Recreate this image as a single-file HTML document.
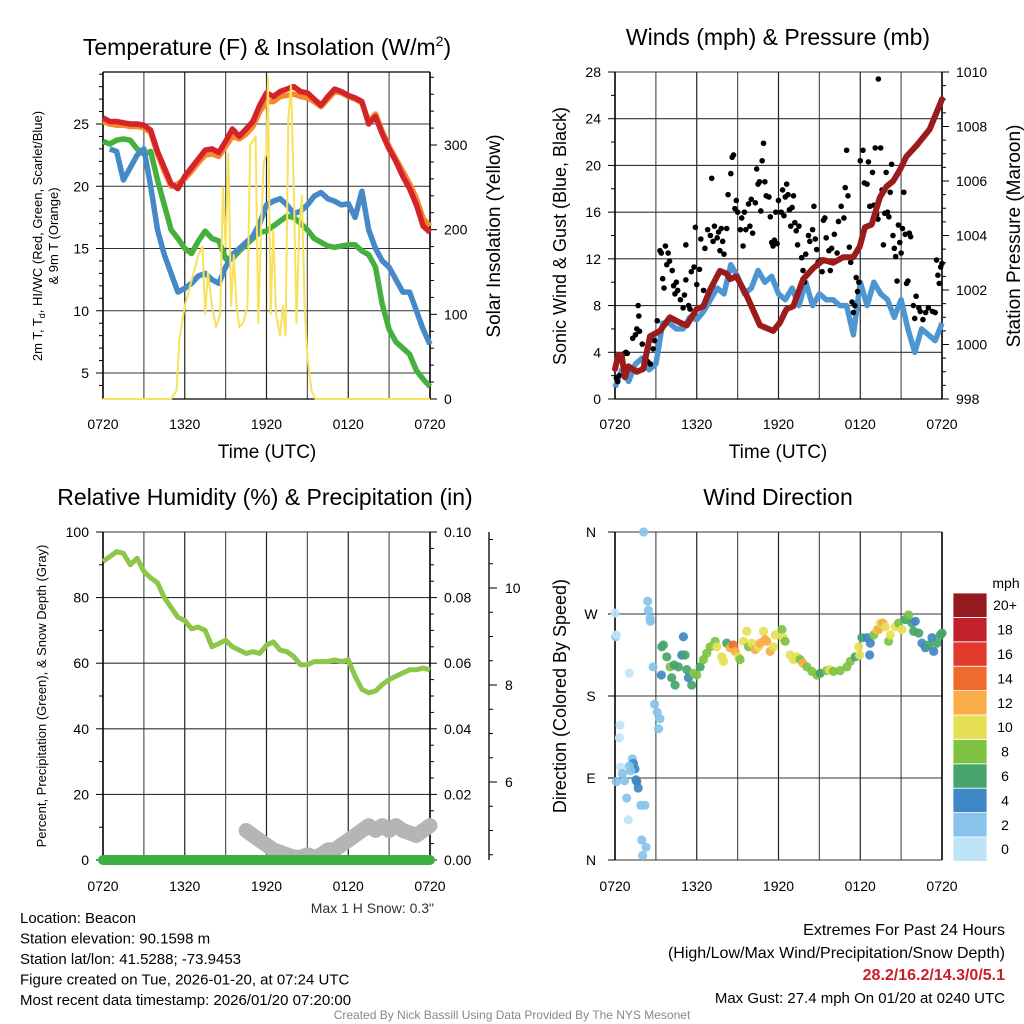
<!DOCTYPE html>
<html><head><meta charset="utf-8"><style>
html,body{margin:0;padding:0;background:#fff;}
svg{display:block;font-family:"Liberation Sans",Arial,sans-serif;}
</style></head><body>
<svg id="c" width="1024" height="1024" viewBox="0 0 1024 1024"></svg>
<script>
// ---------- DATA ----------
const halfHours=[0,0.5,1,1.5,2,2.5,3,3.5,4,4.5,5,5.5,6,6.5,7,7.5,8,8.5,9,9.5,10,10.5,11,11.5,12,12.5,13,13.5,14,14.5,15,15.5,16,16.5,17,17.5,18,18.5,19,19.5,20,20.5,21,21.5,22,22.5,23,23.5,24];
const timeTickLabels=["0720","1320","1920","0120","0720"];
const tempRed=[25.5,25.2,25.2,25.1,25.0,25.0,24.9,24.5,22.8,21.5,20.2,19.8,20.8,21.5,22.2,22.9,23.0,22.7,23.6,24.6,24.0,24.6,25.2,26.5,27.5,27.2,27.6,27.8,28.0,27.6,27.5,27.0,26.5,27.2,27.8,27.6,27.3,27.1,26.8,25.0,25.6,24.2,23.0,22.0,20.8,19.8,18.5,16.8,16.3];
const tempOrange=[25.2,25.0,24.9,24.9,24.8,24.8,24.7,24.3,22.6,21.2,20.0,20.2,20.6,21.2,21.9,22.5,22.6,22.4,23.2,24.0,23.8,24.2,24.8,26.0,26.8,26.8,27.2,27.3,27.4,27.2,27.1,26.8,26.4,27.0,27.6,27.5,27.2,27.0,26.7,25.2,25.8,24.4,23.2,22.2,21.2,20.2,19.0,17.4,16.8];
const tempGreen=[23.6,23.4,23.7,23.8,23.7,23.0,22.6,22.8,20.5,18.5,16.5,15.8,15.0,14.6,15.6,16.4,15.8,15.6,14.2,14.2,14.8,15.3,15.8,16.3,16.4,16.8,17.2,17.6,17.5,17.0,16.5,15.8,15.5,15.2,15.1,15.2,15.3,15.3,14.8,14.5,13.5,10.5,8.5,7.5,7.0,6.5,5.2,4.5,3.9];
const tempBlue=[null,23.0,22.8,20.5,21.5,22.5,23.0,20.0,16.5,14.5,13.0,11.5,11.8,12.2,12.8,13.0,12.5,12.2,13.5,14.5,15.0,15.5,16.0,17.0,18.5,18.8,19.0,18.5,17.8,18.0,18.5,19.2,19.5,19.0,18.8,18.5,18.6,17.5,19.6,16.5,15.0,14.0,13.5,12.5,11.5,11.5,10.0,8.5,7.3];
const solarHours=[0,5.0,5.4,5.6,6,6.5,7,7.3,7.5,7.7,8,8.3,8.6,8.8,9,9.2,9.4,9.6,9.8,10,10.3,10.6,10.8,11,11.2,11.4,11.6,11.8,12,12.1,12.3,12.5,12.7,13,13.2,13.4,13.6,13.8,14,14.2,14.4,14.6,14.8,15,15.3,15.6,24];
const solarValues=[0,0,10,70,110,140,170,180,100,150,110,85,100,250,180,290,110,170,110,85,90,110,300,305,310,90,200,280,290,380,100,200,100,75,110,75,330,370,250,90,200,240,110,50,10,0,0];
const windSpeed=[1.0,2.5,1.5,3.0,3.5,2.5,3.0,6.5,6.5,6.0,6.0,7.0,6.8,7.5,8.5,9.5,9.0,11.5,10.5,9.0,9.5,11.0,10.0,10.5,9.0,8.5,9.5,8.0,10.0,8.0,9.0,8.5,8.5,8.0,8.0,5.5,10.0,8.0,10.0,9.0,8.5,7.0,8.5,6.0,4.0,6.0,5.5,5.0,6.5];
const pressureHours=[0,0.24,0.49,0.73,0.98,1.59,2.08,2.57,3.30,4.03,4.77,5.26,5.99,6.48,6.97,7.70,8.19,8.44,8.92,9.66,10.64,11.61,12.10,12.59,13.08,13.81,14.55,15.28,16.01,16.75,17.48,17.97,18.34,18.83,19.44,19.93,20.42,20.90,21.39,22.13,23.10,24];
const pressureValues=[999.1,999.6,999.6,998.8,999.2,999.0,999.1,1000.3,1000.5,1001.0,1000.8,1000.7,1001.3,1001.4,1002.0,1002.7,1002.6,1002.4,1002.5,1001.8,1000.7,1000.5,1000.8,1001.3,1001.4,1002.4,1002.8,1003.1,1003.0,1003.2,1003.2,1003.6,1004.3,1004.4,1005.4,1005.8,1006.0,1006.4,1006.9,1007.3,1007.9,1009.0];
const gustHours=[0.1,0.2,0.3,0.7,0.8,0.9,1.3,1.5,1.6,1.7,1.75,1.8,2.0,2.2,2.4,2.6,2.8,2.9,3.1,3.3,3.4,3.5,3.6,3.7,3.8,3.9,4.0,4.2,4.3,4.4,4.5,4.6,4.8,5.0,5.1,5.2,5.2,5.4,5.5,5.6,5.8,5.9,6.0,6.2,6.3,6.5,6.6,6.8,7.0,7.1,7.2,7.3,7.5,7.6,7.7,7.8,7.9,8.0,8.2,8.3,8.5,8.6,8.7,8.8,8.9,9.0,9.2,9.3,9.4,9.5,9.6,9.8,9.9,10.0,10.1,10.3,10.4,10.5,10.6,10.7,10.8,10.9,11.0,11.1,11.3,11.4,11.5,11.6,11.7,11.8,11.9,12.0,12.2,12.3,12.4,12.5,12.6,12.7,12.8,12.9,13.0,13.1,13.2,13.3,13.4,13.5,13.7,13.8,13.9,14.0,14.2,14.3,14.5,14.6,14.7,14.8,14.9,15.1,15.2,15.3,15.4,15.5,15.7,15.8,15.9,16.1,16.3,16.4,16.6,16.8,16.9,17.0,17.1,17.2,17.3,17.4,17.5,17.6,17.7,17.8,17.9,18.0,18.2,18.3,18.5,18.6,18.7,18.9,19.0,19.1,19.2,19.3,19.5,19.6,19.7,19.8,19.9,20.0,20.1,20.2,20.3,20.4,20.5,20.6,20.7,20.8,20.9,21.0,21.1,21.2,21.3,21.4,21.5,21.6,21.7,21.9,22.0,22.1,22.3,22.4,22.6,22.8,23.0,23.3,23.5,23.6,23.7,23.8,23.9,24.0];
const gustValues=[1.8,1.5,2.0,3.9,4.0,3.9,5.2,5.5,6.0,8.0,7.1,5.8,4.7,3.5,3.2,3.0,4.3,5.0,6.7,12.7,12.5,10.3,9.5,13.1,11.5,12.5,11.8,11.0,9.7,9.0,10.0,9.3,8.5,7.8,8.9,10.2,13.2,8.0,7.7,10.9,11.3,14.7,9.8,11.1,13.7,9.3,12.9,14.5,14.0,18.9,13.5,14.8,13.8,14.3,12.7,14.6,13.5,12.4,14.6,17.5,19.3,20.7,20.9,16.3,17.0,16.0,14.5,15.5,13.1,16.0,14.5,16.7,14.8,17.1,14.2,16.8,19.7,18.4,18.6,16.1,20.4,21.9,18.6,17.4,17.3,15.6,13.4,13.1,13.6,16.0,13.3,17.0,16.0,17.9,15.7,17.3,18.4,17.5,16.2,14.8,16.4,17.4,15.1,14.4,13.2,14.8,12.1,11.0,10.0,12.4,14.0,13.5,14.5,16.5,13.7,12.8,11.7,11.9,10.9,15.3,15.5,13.8,12.7,11.0,12.9,14.1,12.5,15.2,16.5,15.5,18.1,21.3,17.4,13.0,11.7,8.3,7.4,8.0,10.4,9.2,10.0,20.4,21.3,18.5,18.4,20.3,16.5,19.4,16.6,21.5,15.8,15.4,21.5,17.9,13.2,15.9,19.4,16.0,15.6,17.7,20.1,14.0,12.9,12.2,10.1,14.9,13.4,12.5,14.6,17.7,14.1,9.9,10.1,14.2,13.9,8.0,6.9,8.8,7.8,7.5,6.8,7.4,7.8,7.5,7.4,11.9,10.6,9.9,11.3,11.6];
const maxGustHour=[19.33];
const maxGustValue=[27.4];
const rhValues=[91,92.5,94,93.5,90,92,88,86,84.5,80,77,74,73,70.5,71,70,65,66,67,65,64,63,63.5,63,65.5,66.5,64,63.5,62,59.5,59.5,60.5,60.5,60.5,61,60.5,61,56,52,51,51.5,53.5,55,56,57,58,58,58.5,58];
const precipValues=[0,0,0,0,0,0,0,0,0,0,0,0,0,0,0,0,0,0,0,0,0,0,0,0,0,0,0,0,0,0,0,0,0,0,0,0,0,0,0,0,0,0,0,0,0,0,0,0,0];
const snowHours=[10.5,11,11.5,12,12.5,13,13.5,14,14.5,15,15.5,16,16.5,17,17.5,18,18.5,19,19.5,20,20.5,21,21.5,22,22.5,23,23.5,24];
const snowDepth=[5.0,4.9,4.8,4.7,4.6,4.55,4.5,4.45,4.45,4.5,4.45,4.5,4.6,4.6,4.7,4.8,4.9,5.0,5.1,5.0,5.1,5.0,5.1,5.0,4.95,4.9,5.0,5.1];
const dirHours=[0,0.05,0.1,1.05,2.1,2.4,2.45,2.57,2.6,2.8,3.4,2.9,3.1,3.3,3.2,0.37,0.32,0.42,0.55,0.7,0.1,1.27,1.35,1.47,1.54,1.7,0.86,0.98,1.9,2.2,1.96,2.28,2.03,1.6,1.05,1.15,
3.43,3.55,3.80,4.04,4.16,4.41,4.34,4.65,4.90,5.14,5.02,5.27,5.39,5.63,5.76,6.0,6.25,6.49,6.74,6.98,7.35,7.47,7.84,7.96,8.2,8.45,8.69,8.82,9.06,9.18,9.43,9.67,9.8,10.04,10.29,10.53,10.65,10.9,11.02,11.14,11.39,11.63,11.76,12.25,12.32,12.49,12.86,13.1,13.35,13.59,13.79,14.08,14.45,14.82,15.06,15.55,15.75,16.04,16.53,17.02,17.27,17.63,17.88,17.95,18.12,18.49,18.74,18.69,18.98,19.23,19.35,19.47,19.67,19.84,20.08,20.21,20.57,20.82,21.06,21.31,21.55,21.8,22.04,21.92,22.29,22.53,22.78,23.02,23.27,23.39,23.63,23.88,24];
const dirDegrees=[271,245,247,205,360,284,274,265,262,212,203,171,162,155,144,148,134,102,95,87,86,111,106,100,88,79,68,44,60,60,22,14,5,86,103,98,
234,236,223,212,200,192,214,212,225,225,245,209,200,192,205,203,212,220,227,234,240,234,223,218,238,233,236,229,223,220,240,251,234,238,231,234,238,251,242,240,229,234,247,253,244,240,225,220,223,220,216,212,207,203,205,208,209,207,208,212,218,223,234,225,244,244,238,225,247,253,253,260,260,256,240,247,256,260,253,264,269,260,262,251,249,238,233,236,244,229,238,247,249];
const dirSpeeds=[1,2,1,1,2,2,2,2,2,2,4,2,2,2,2,1,1,1,2,2,2,2,4,4,4,4,2,1,2,2,2,2,2,4,2,2,
6,6,6,8,6,6,6,6,4,6,4,6,4,6,8,8,6,8,8,8,8,10,10,10,6,12,14,12,10,8,10,10,8,10,12,10,12,10,12,12,12,10,10,8,10,8,10,10,10,8,12,8,8,8,6,8,10,8,8,8,8,6,10,10,6,4,4,4,8,10,12,10,12,10,8,10,10,8,10,6,8,6,4,6,6,4,4,6,4,4,6,6,6];
const colorbarLabels=["0","2","4","6","8","10","12","14","16","18","20+"];
const colorbarColors=["#bfe4f8","#87c3ea","#3f87c6","#45a56a","#7dc243","#e5df53","#f8ad48","#ef6a2d","#e13a2c","#c1212b","#951a1f"];

// ---------- HELPERS ----------
const NS="http://www.w3.org/2000/svg";
const svg=document.getElementById('c');
function mk(tag,attrs,parent){const e=document.createElementNS(NS,tag);for(const k in attrs)e.setAttribute(k,attrs[k]);(parent||svg).appendChild(e);return e;}
function txt(s,x,y,size,anchor,parent,extra){const e=mk('text',Object.assign({x:x,y:y,'font-size':size,'text-anchor':anchor||'middle',fill:'#000'},extra||{}),parent);e.textContent=s;return e;}
function lin(d0,d1,r0,r1){return v=>r0+(v-d0)*(r1-r0)/(d1-d0);}
function pathFrom(xs,ys,fx,fy){let d='',pen=false;for(let i=0;i<xs.length;i++){if(ys[i]===null||ys[i]===undefined){pen=false;continue;}d+=(pen?'L':'M')+fx(xs[i]).toFixed(1)+','+fy(ys[i]).toFixed(1);pen=true;}return d;}
function grid(g,L,R,T,B,hy){for(let h=0;h<=24;h+=3){const x=L+(R-L)*h/24;mk('line',{x1:x,x2:x,y1:T,y2:B,stroke:h%6==0?'#222':'#555','stroke-width':1.2},g);}
 hy.forEach(y=>mk('line',{x1:L,x2:R,y1:y,y2:y,stroke:'#333','stroke-width':1.1},g));}
function xLabels(g,L,R,y){timeTickLabels.forEach((s,i)=>{const t=txt(s,L+(R-L)*i/4,y,14,'middle',g);});}
function yTicks(g,x,vals,fy,fmt,side,minor){vals.forEach(v=>{const y=fy(v);mk('line',{x1:x,x2:x+(side<0?-7:7),y1:y,y2:y,stroke:'#000','stroke-width':1},g);const t=txt(fmt(v),x+(side<0?-14:14),y+5,14,side<0?'end':'start',g);});
 (minor||[]).forEach(v=>{const y=fy(v);mk('line',{x1:x,x2:x+(side<0?-4:4),y1:y,y2:y,stroke:'#000','stroke-width':1},g);});}
function rot(s,x,y,size,parent){const e=txt(s,x,y,size,'middle',parent,{transform:`rotate(-90 ${x} ${y})`});return e;}
function range(a,b,s){const r=[];for(let v=a;v<=b+1e-9;v+=s)r.push(+v.toFixed(4));return r;}

// ---------- PANEL 1 ----------
{const g=mk('g',{});
const L=103,R=430,T=72,B=399;
const fx=lin(0,24,L,R), fy=lin(5,25,373,124), fs=lin(0,300,399,145);
grid(g,L,R,T,B,[5,10,15,20,25].map(fy));
mk('line',{x1:L,x2:R,y1:T,y2:T,stroke:'#000','stroke-width':1.2},g);
mk('line',{x1:L,x2:R,y1:B,y2:B,stroke:'#000','stroke-width':1.2},g);
mk('line',{x1:L,x2:L,y1:T,y2:B,stroke:'#000','stroke-width':1.5},g);
mk('line',{x1:R,x2:R,y1:T,y2:B,stroke:'#000','stroke-width':1.5},g);
yTicks(g,L,[5,10,15,20,25],fy,v=>v,-1,range(4,29,1).filter(v=>v%5));
yTicks(g,R,[0,100,200,300],fs,v=>v,1,range(20,380,20).filter(v=>v%100));
let p;
p=mk('path',{d:pathFrom(halfHours,tempGreen,fx,fy),fill:'none',stroke:'#46b03e','stroke-width':5.5,'stroke-linejoin':'round'},g);
p=mk('path',{d:pathFrom(halfHours,tempBlue,fx,fy),fill:'none',stroke:'#4689c8','stroke-width':5.5,'stroke-linejoin':'round'},g);
p=mk('path',{d:pathFrom(halfHours,tempOrange,fx,fy),fill:'none',stroke:'#f5872e','stroke-width':5.5,'stroke-linejoin':'round'},g);
p=mk('path',{d:pathFrom(halfHours,tempRed,fx,fy),fill:'none',stroke:'#d4242a','stroke-width':5.5,'stroke-linejoin':'round'},g);
p=mk('path',{d:pathFrom(solarHours,solarValues,fx,fs),fill:'none',stroke:'#f8e15c','stroke-width':2,'stroke-linejoin':'round'},g);
xLabels(g,L,R,429);
const t=mk('text',{x:267,y:55,'font-size':23,'text-anchor':'middle'},g);t.innerHTML='Temperature (F) &amp; Insolation (W/m<tspan dy="-9" font-size="14">2</tspan><tspan dy="9">)</tspan>';
let a=txt('Time (UTC)',267,458,19,'middle',g);
const yt=mk('text',{x:42,y:236,'font-size':13,'text-anchor':'middle',transform:'rotate(-90 42 236)'},g);yt.innerHTML='2m T, T<tspan dy="3" font-size="9">d</tspan><tspan dy="-3">, HI/WC (Red, Green, Scarlet/Blue)</tspan>';
a=rot('& 9m T (Orange)',58,236,13,g);
a=rot('Solar Insolation (Yellow)',500,236,19,g);
}

// ---------- PANEL 2 ----------
{const g=mk('g',{});
const L=615,R=942,T=72,B=399;
const fx=lin(0,24,L,R), fy=lin(0,28,B,T), fp=lin(998,1010,B,T);
grid(g,L,R,T,B,range(4,28,4).map(fy));
mk('line',{x1:L,x2:R,y1:B,y2:B,stroke:'#000','stroke-width':1.2},g);
mk('line',{x1:L,x2:L,y1:T,y2:B,stroke:'#000','stroke-width':1.5},g);
mk('line',{x1:R,x2:R,y1:T,y2:B,stroke:'#000','stroke-width':1.5},g);
yTicks(g,L,range(0,28,4),fy,v=>v,-1,range(2,26,4));
yTicks(g,R,range(998,1010,2),fp,v=>v,1,range(998.5,1009.5,0.5).filter(v=>v%2));
let p=mk('path',{d:pathFrom(halfHours,windSpeed,fx,fy),fill:'none',stroke:'#4e96d2','stroke-width':5.5,'stroke-linejoin':'round'},g);
const dg=mk('g',{},g);
for(let i=0;i<gustHours.length;i++){const c=mk('circle',{cx:fx(gustHours[i]),cy:fy(gustValues[i]),r:2.8,fill:'#000'},dg);}
const c=mk('circle',{cx:fx(maxGustHour[0]),cy:fy(maxGustValue[0]),r:2.8,fill:'#000'},dg);
p=mk('path',{d:pathFrom(pressureHours,pressureValues,fx,fp),fill:'none',stroke:'#9c1b1d','stroke-width':6,'stroke-linejoin':'round','stroke-linecap':'round'},g);
xLabels(g,L,R,429);
let a=txt('Winds (mph) & Pressure (mb)',778,45,23,'middle',g);
a=txt('Time (UTC)',778,458,19,'middle',g);
a=rot('Sonic Wind & Gust (Blue, Black)',566,236,18,g);
a=rot('Station Pressure (Maroon)',1020,236,19,g);
}

// ---------- PANEL 3 ----------
{const g=mk('g',{});
const L=103,R=430,T=532,B=860;
const fx=lin(0,24,L,R), fy=lin(0,100,B,T), fpr=lin(0,0.1,B,T), fsn=lin(6,10,782,588);
grid(g,L,R,T,B,range(0,100,20).map(fy));
mk('line',{x1:L,x2:L,y1:T,y2:B,stroke:'#000','stroke-width':1.5},g);
mk('line',{x1:R,x2:R,y1:T,y2:B,stroke:'#000','stroke-width':1.5},g);
yTicks(g,L,range(0,100,20),fy,v=>v,-1,range(10,90,20));
yTicks(g,R,range(0,0.1,0.02),fpr,v=>v.toFixed(2),1,range(0.005,0.095,0.005).filter(v=>Math.round(v*1000)%20));
mk('line',{x1:489,x2:489,y1:T,y2:B,stroke:'#000','stroke-width':1.3},g);
range(6,10,2).forEach(v=>{const y=fsn(v);mk('line',{x1:489,x2:497,y1:y,y2:y,stroke:'#000'},g);const t=txt(String(v),505,y+5,14,'start',g);});
range(4.5,11,0.5).filter(v=>v%2).forEach(v=>{const y=fsn(v);if(y>=T&&y<=B)mk('line',{x1:489,x2:493,y1:y,y2:y,stroke:'#000'},g);});
let p=mk('path',{d:pathFrom(snowHours,snowDepth,fx,fsn),fill:'none',stroke:'#b5b5b5','stroke-width':15,'stroke-linejoin':'round','stroke-linecap':'round'},g);
p=mk('path',{d:pathFrom(halfHours,rhValues,fx,fy),fill:'none',stroke:'#8cc64a','stroke-width':5,'stroke-linejoin':'round'},g);
p=mk('path',{d:pathFrom(halfHours,precipValues,fx,fpr),fill:'none',stroke:'#3fae44','stroke-width':10,'stroke-linecap':'round'},g);
xLabels(g,L,R,891);
let a=txt('Relative Humidity (%) & Precipitation (in)',265,505,23,'middle',g);
a=rot('Percent, Precipitation (Green), & Snow Depth (Gray)',46,696,13,g);
a=txt('Max 1 H Snow: 0.3"',434,913,14,'end',g,{fill:'#333'});
}

// ---------- PANEL 4 ----------
{const g=mk('g',{});
const L=615,R=942,T=532,B=860;
const fx=lin(0,24,L,R), fd=lin(0,360,B,T);
grid(g,L,R,T,B,[0,90,180,270,360].map(fd));
mk('line',{x1:L,x2:L,y1:T,y2:B,stroke:'#000','stroke-width':1.5},g);
mk('line',{x1:R,x2:R,y1:T,y2:B,stroke:'#000','stroke-width':1.5},g);
const dl=["N","E","S","W","N"];
[0,90,180,270,360].forEach((v,i)=>{const y=fd(v);mk('line',{x1:L,x2:L-7,y1:y,y2:y,stroke:'#000'},g);const t=txt(dl[i],591,y+5,14,'middle',g);});
const dg=mk('g',{},g);
for(let i=0;i<dirHours.length;i++){const k=Math.min(10,Math.floor(dirSpeeds[i]/2));const c=mk('circle',{cx:fx(dirHours[i]),cy:fd(dirDegrees[i]),r:4.6,fill:colorbarColors[k],'fill-opacity':0.92},dg);}
xLabels(g,L,R,891);
let a=txt('Wind Direction',778,505,23,'middle',g);
a=rot('Direction (Colored By Speed)',566,696,18,g);
const cb=mk('g',{},g);
const bh=24.4,top=593;
colorbarColors.forEach((col,i)=>{const y=top+(10-i)*bh;const r=mk('rect',{x:953,y:y,width:34,height:bh,fill:col,stroke:'#fff','stroke-width':0.8},cb);
 const t=txt(colorbarLabels[i],1005,y+bh/2+5,14,'middle',cb);});
a=txt('mph',1006,588,14,'middle',cb);
}

// ---------- FOOTER TEXT ----------
{const g=mk('g',{});
["Location: Beacon","Station elevation: 90.1598 m","Station lat/lon: 41.5288; -73.9453","Figure created on Tue, 2026-01-20, at 07:24 UTC","Most recent data timestamp: 2026/01/20 07:20:00"].forEach((s,i)=>{const t=txt(s,20,923+i*20.5,15,'start',g);});
const h=mk('g',{});
let a=txt('Extremes For Past 24 Hours',1005,935,16,'end',h);
a=txt('(High/Low/Max Wind/Precipitation/Snow Depth)',1005,958,16,'end',h);
a=txt('28.2/16.2/14.3/0/5.1',1005,980,16,'end',h,{fill:'#c8202a','font-weight':'bold'});
a=txt('Max Gust: 27.4 mph On 01/20 at 0240 UTC',1005,1003,15,'end',h);
a=txt('Created By Nick Bassill Using Data Provided By The NYS Mesonet',512,1019,12,'middle',h,{fill:'#888'});
}
</script>
</body></html>
